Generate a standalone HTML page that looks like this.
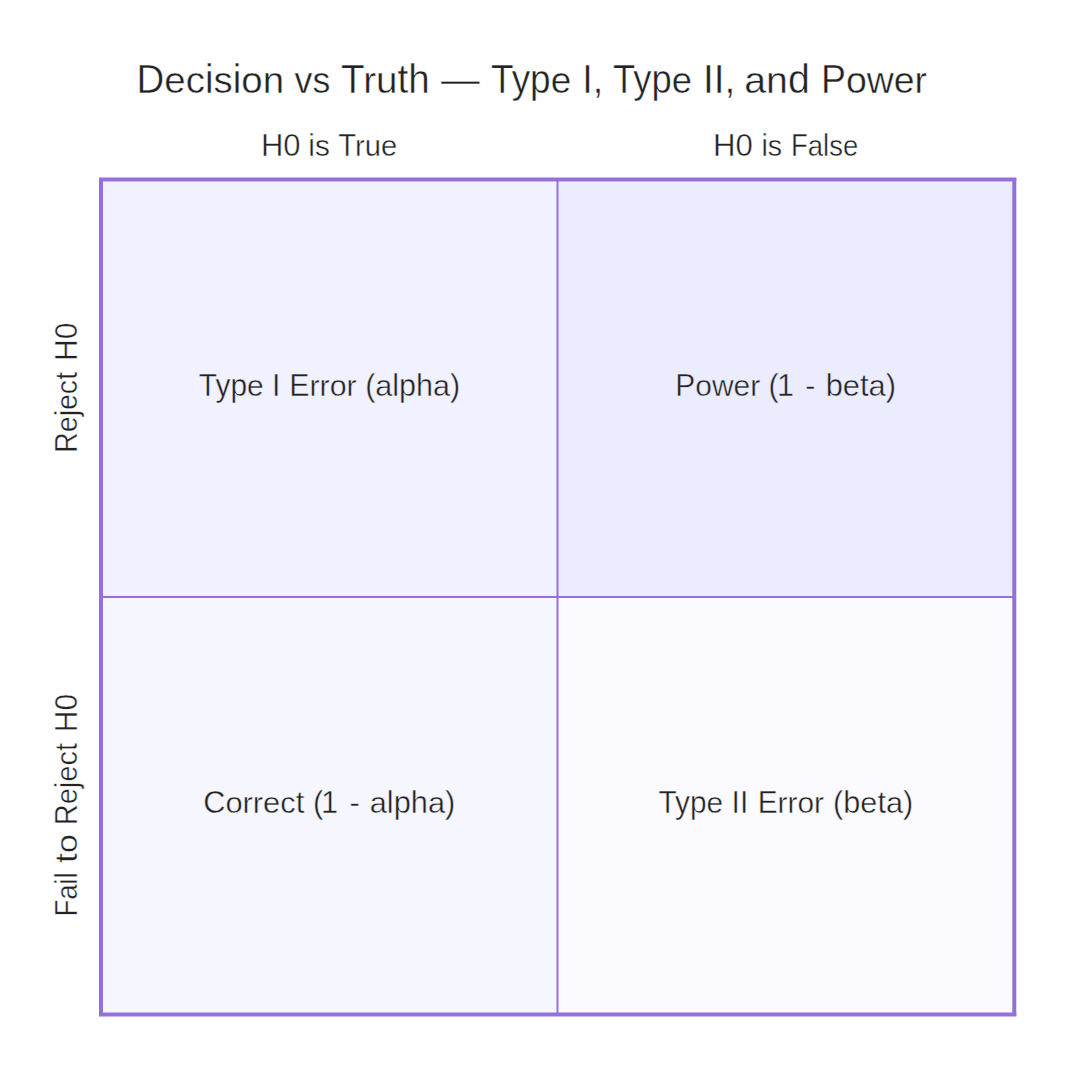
<!DOCTYPE html>
<html><head><meta charset="utf-8"><style>
html,body{margin:0;padding:0;background:#fff;width:1080px;height:1080px;overflow:hidden}
svg{display:block}
text{font-family:"Liberation Sans",sans-serif;fill:#222222}
</style></head><body>
<svg width="1080" height="1080" viewBox="0 0 1080 1080">
<rect x="0" y="0" width="1080" height="1080" fill="#ffffff"/>
<rect x="103" y="182" width="455" height="415" fill="#F1F1FF"/>
<rect x="558" y="182" width="455" height="415" fill="#ECECFF"/>
<rect x="103" y="597" width="455" height="416" fill="#F6F6FF"/>
<rect x="558" y="597" width="455" height="416" fill="#FBFBFF"/>
<line x1="557.5" y1="180" x2="557.5" y2="1014" stroke="#9370DB" stroke-width="2"/>
<line x1="101" y1="597" x2="1014" y2="597" stroke="#9370DB" stroke-width="2"/>
<line x1="101" y1="178" x2="101" y2="1016" stroke="#9370DB" stroke-width="4"/>
<line x1="1014.3" y1="178" x2="1014.3" y2="1016" stroke="#9370DB" stroke-width="4"/>
<line x1="99" y1="179.6" x2="1016.3" y2="179.6" stroke="#9370DB" stroke-width="4"/>
<line x1="99" y1="1014.4" x2="1016.3" y2="1014.4" stroke="#9370DB" stroke-width="4"/>
<g transform="translate(136.62,93.00) scale(0.9492,1)" font-size="40.5" stroke="#ffffff" stroke-width="0.45"><text x="0.00" y="0">D</text><text x="29.23" y="0" transform="scale(1,0.93)">ec</text><text x="72.02" y="0">i</text><text x="81.02" y="0" transform="scale(1,0.93)">s</text><text x="101.27" y="0">i</text><text x="110.27" y="0" transform="scale(1,0.93)">on</text></g>
<g transform="translate(294.58,93.00) scale(0.8826,1)" font-size="40.5" stroke="#ffffff" stroke-width="0.45"><text x="0.00" y="0" transform="scale(1,0.93)">vs</text></g>
<g transform="translate(341.05,93.00) scale(0.9520,1)" font-size="40.5" stroke="#ffffff" stroke-width="0.45"><text x="0.00" y="0">T</text><text x="23.23" y="0" transform="scale(1,0.93)">ru</text><text x="59.23" y="0">th</text></g>
<g transform="translate(441.10,93.00) scale(0.9556,1)" font-size="40.5" stroke="#ffffff" stroke-width="0.45"><text x="0.00" y="0">—</text></g>
<g transform="translate(491.09,93.00) scale(0.9129,1)" font-size="40.5" stroke="#ffffff" stroke-width="0.45"><text x="0.00" y="0">Typ</text><text x="65.27" y="0" transform="scale(1,0.93)">e</text></g>
<g transform="translate(582.23,93.00) scale(0.9337,1)" font-size="40.5" stroke="#ffffff" stroke-width="0.45"><text x="0.00" y="0">I,</text></g>
<g transform="translate(613.10,93.00) scale(0.8988,1)" font-size="40.5" stroke="#ffffff" stroke-width="0.45"><text x="0.00" y="0">Typ</text><text x="65.27" y="0" transform="scale(1,0.93)">e</text></g>
<g transform="translate(703.01,93.00) scale(0.9585,1)" font-size="40.5" stroke="#ffffff" stroke-width="0.45"><text x="0.00" y="0">II,</text></g>
<g transform="translate(744.30,93.00) scale(0.9692,1)" font-size="40.5" stroke="#ffffff" stroke-width="0.45"><text x="0.00" y="0" transform="scale(1,0.93)">an</text><text x="45.05" y="0">d</text></g>
<g transform="translate(821.00,93.00) scale(0.9243,1)" font-size="40.5" stroke="#ffffff" stroke-width="0.45"><text x="0.00" y="0">P</text><text x="27.00" y="0" transform="scale(1,0.93)">ower</text></g>
<g transform="translate(260.88,156.00) scale(0.9691,1)" font-size="32" stroke="#ffffff" stroke-width="0.45"><text x="0.00" y="0">H0</text></g>
<g transform="translate(308.35,156.00) scale(0.9333,1)" font-size="32" stroke="#ffffff" stroke-width="0.45"><text x="0.00" y="0">i</text><text x="7.11" y="0" transform="scale(1,0.93)">s</text></g>
<g transform="translate(338.32,156.00) scale(0.9120,1)" font-size="32" stroke="#ffffff" stroke-width="0.45"><text x="0.00" y="0">T</text><text x="18.36" y="0" transform="scale(1,0.93)">rue</text></g>
<g transform="translate(712.96,156.00) scale(0.9745,1)" font-size="32" stroke="#ffffff" stroke-width="0.45"><text x="0.00" y="0">H0</text></g>
<g transform="translate(761.49,156.00) scale(0.8969,1)" font-size="32" stroke="#ffffff" stroke-width="0.45"><text x="0.00" y="0">i</text><text x="7.11" y="0" transform="scale(1,0.93)">s</text></g>
<g transform="translate(791.06,156.00) scale(0.8579,1)" font-size="32" stroke="#ffffff" stroke-width="0.45"><text x="0.00" y="0">F</text><text x="19.55" y="0" transform="scale(1,0.93)">a</text><text x="37.34" y="0">l</text><text x="44.45" y="0" transform="scale(1,0.93)">se</text></g>
<g transform="translate(198.80,396.00) scale(0.9353,1)" font-size="32" stroke="#F1F1FF" stroke-width="0.45"><text x="0.00" y="0">Typ</text><text x="51.58" y="0" transform="scale(1,0.93)">e</text></g>
<g transform="translate(271.89,396.00) scale(0.9472,1)" font-size="32" stroke="#F1F1FF" stroke-width="0.45"><text x="0.00" y="0">I</text></g>
<g transform="translate(289.23,396.00) scale(0.9485,1)" font-size="32" stroke="#F1F1FF" stroke-width="0.45"><text x="0.00" y="0">E</text><text x="21.34" y="0" transform="scale(1,0.93)">rror</text></g>
<g transform="translate(365.19,396.00) scale(0.9546,1)" font-size="32" stroke="#F1F1FF" stroke-width="0.45"><text x="0.00" y="0">(</text><text x="10.66" y="0" transform="scale(1,0.93)">a</text><text x="28.45" y="0">lph</text><text x="71.16" y="0" transform="scale(1,0.93)">a</text><text x="88.95" y="0">)</text></g>
<g transform="translate(675.26,396.00) scale(0.9368,1)" font-size="32" stroke="#ECECFF" stroke-width="0.45"><text x="0.00" y="0">P</text><text x="21.34" y="0" transform="scale(1,0.93)">ower</text></g>
<g transform="translate(768.57,396.00) scale(0.9493,1)" font-size="32" stroke="#ECECFF" stroke-width="0.45"><text x="0.00" y="0">(</text></g>
<g transform="translate(776.95,396.00) scale(0.9493,1)" font-size="32" stroke="#ECECFF" stroke-width="0.45"><text x="0.00" y="0">1</text></g>
<g transform="translate(805.15,396.00) scale(0.9493,1)" font-size="32" stroke="#ECECFF" stroke-width="0.45"><text x="0.00" y="0">-</text></g>
<g transform="translate(825.67,396.00) scale(0.9652,1)" font-size="32" stroke="#ECECFF" stroke-width="0.45"><text x="0.00" y="0">b</text><text x="17.80" y="0" transform="scale(1,0.93)">e</text><text x="35.59" y="0">t</text><text x="44.48" y="0" transform="scale(1,0.93)">a</text><text x="62.28" y="0">)</text></g>
<g transform="translate(203.15,813.00) scale(0.9637,1)" font-size="32" stroke="#F6F6FF" stroke-width="0.45"><text x="0.00" y="0">C</text><text x="23.11" y="0" transform="scale(1,0.93)">orrec</text><text x="96.02" y="0">t</text></g>
<g transform="translate(312.88,813.00) scale(0.9630,1)" font-size="32" stroke="#F6F6FF" stroke-width="0.45"><text x="0.00" y="0">(</text></g>
<g transform="translate(321.12,813.00) scale(0.9630,1)" font-size="32" stroke="#F6F6FF" stroke-width="0.45"><text x="0.00" y="0">1</text></g>
<g transform="translate(349.52,813.00) scale(0.9630,1)" font-size="32" stroke="#F6F6FF" stroke-width="0.45"><text x="0.00" y="0">-</text></g>
<g transform="translate(369.70,813.00) scale(0.9621,1)" font-size="32" stroke="#F6F6FF" stroke-width="0.45"><text x="0.00" y="0" transform="scale(1,0.93)">a</text><text x="17.80" y="0">lph</text><text x="60.50" y="0" transform="scale(1,0.93)">a</text><text x="78.30" y="0">)</text></g>
<g transform="translate(658.50,813.00) scale(0.9309,1)" font-size="32" stroke="#FBFBFF" stroke-width="0.45"><text x="0.00" y="0">Typ</text><text x="51.58" y="0" transform="scale(1,0.93)">e</text></g>
<g transform="translate(731.59,813.00) scale(0.9419,1)" font-size="32" stroke="#FBFBFF" stroke-width="0.45"><text x="0.00" y="0">II</text></g>
<g transform="translate(757.67,813.00) scale(0.9338,1)" font-size="32" stroke="#FBFBFF" stroke-width="0.45"><text x="0.00" y="0">E</text><text x="21.34" y="0" transform="scale(1,0.93)">rror</text></g>
<g transform="translate(833.08,813.00) scale(0.9580,1)" font-size="32" stroke="#FBFBFF" stroke-width="0.45"><text x="0.00" y="0">(b</text><text x="28.45" y="0" transform="scale(1,0.93)">e</text><text x="46.25" y="0">t</text><text x="55.14" y="0" transform="scale(1,0.93)">a</text><text x="72.94" y="0">)</text></g>
<g transform="translate(77.00,452.83) rotate(-90) scale(0.8920,1)" font-size="32" stroke="#ffffff" stroke-width="0.45"><text x="0.00" y="0">R</text><text x="23.11" y="0" transform="scale(1,0.93)">e</text><text x="40.91" y="0">j</text><text x="48.02" y="0" transform="scale(1,0.93)">ec</text><text x="81.81" y="0">t</text></g>
<g transform="translate(77.00,360.94) rotate(-90) scale(0.9369,1)" font-size="32" stroke="#ffffff" stroke-width="0.45"><text x="0.00" y="0">H0</text></g>
<g transform="translate(77.00,916.55) rotate(-90) scale(0.8617,1)" font-size="32" stroke="#ffffff" stroke-width="0.45"><text x="0.00" y="0">F</text><text x="19.55" y="0" transform="scale(1,0.93)">a</text><text x="37.34" y="0">il</text></g>
<g transform="translate(77.00,862.74) rotate(-90) scale(1.0747,1)" font-size="32" stroke="#ffffff" stroke-width="0.45"><text x="0.00" y="0">t</text><text x="8.89" y="0" transform="scale(1,0.93)">o</text></g>
<g transform="translate(77.00,825.37) rotate(-90) scale(0.9091,1)" font-size="32" stroke="#ffffff" stroke-width="0.45"><text x="0.00" y="0">R</text><text x="23.11" y="0" transform="scale(1,0.93)">e</text><text x="40.91" y="0">j</text><text x="48.02" y="0" transform="scale(1,0.93)">ec</text><text x="81.81" y="0">t</text></g>
<g transform="translate(77.00,732.14) rotate(-90) scale(0.9342,1)" font-size="32" stroke="#ffffff" stroke-width="0.45"><text x="0.00" y="0">H0</text></g>
</svg>
</body></html>
